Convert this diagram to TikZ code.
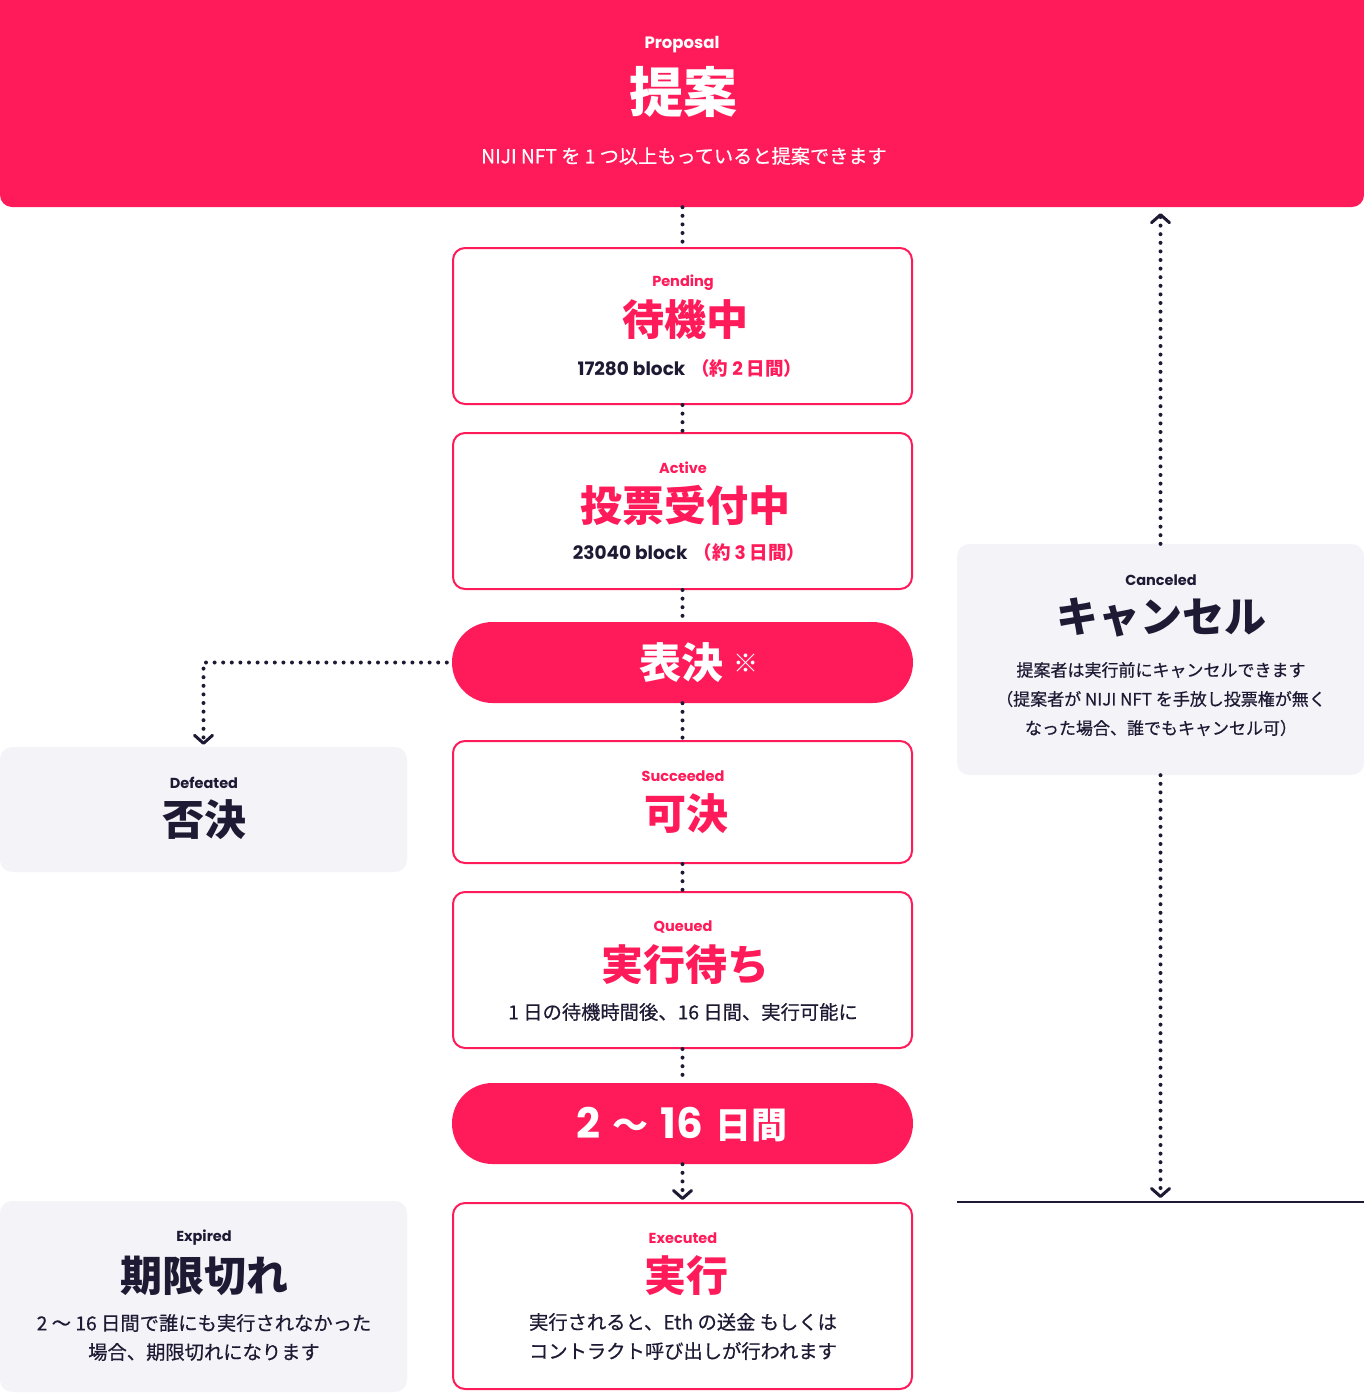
\documentclass[tikz,border=0pt]{standalone}
\usepackage{fontspec}
\setmainfont{Poppins}
\newfontfamily\jp{Noto Sans CJK JP}
\newfontfamily\jpm{Noto Sans CJK JP}[FakeBold=0.5]
\usetikzlibrary{arrows.meta}
\definecolor{nred}{RGB}{255,27,90}
\definecolor{ndark}{RGB}{30,26,52}
\definecolor{ngray}{RGB}{244,243,248}
\begin{document}
\begin{tikzpicture}[x=1pt,y=-1pt,
  wbox/.style={draw=nred,line width=2pt,fill=white,rounded corners=12pt,minimum width=459pt,inner sep=0pt},
  gbox/.style={fill=ngray,rounded corners=12pt,minimum width=407pt,inner sep=0pt},
  pill/.style={fill=nred,rounded corners=40.5pt,minimum width=461pt,minimum height=81pt,inner sep=0pt},
  lab/.style={font=\bfseries\fontsize{14.5}{16}\selectfont,inner sep=0pt},
  ttl/.style={font=\jp\bfseries\fontsize{42}{48}\selectfont,inner sep=0pt},
  body/.style={font=\jpm\fontsize{19.3}{22}\selectfont,text=ndark,inner sep=0pt},
  sbody/.style={font=\jpm\fontsize{17}{20}\selectfont,text=ndark,inner sep=0pt},
  blk/.style={font=\bfseries\fontsize{18.5}{20}\selectfont,text=ndark,inner sep=0pt},
  dots/.style={ndark,line width=4pt,line cap=round,dash pattern=on 0pt off 8.6pt},
  tip/.style={-{Straight Barb[length=8pt,width=18pt,line width=3pt,round]}},
]
\useasboundingbox (0,0) rectangle (1364,1393);
\begin{scope}
\clip (0,0) rectangle (1364,1393);
\node[fill=nred,rounded corners=12pt,minimum width=1364pt,minimum height=227pt,inner sep=0pt] (prop) at (682,93.5) {};
\end{scope}
\node[lab,text=white,font=\bfseries\fontsize{16.5}{18}\selectfont] (propL) at (682,45) {Proposal};
\node[ttl,text=white,font=\jp\bfseries\fontsize{54}{60}\selectfont] (propT) at (683,92) {提案};
\node[body,text=white,font=\jpm\fontsize{19.2}{22}\selectfont] (propB) at (684,156) {NIJI NFT を 1 つ以上もっていると提案できます};

% boxes
\node[wbox,minimum height=156pt] (pend) at (682.5,326) {};
\node[wbox,minimum height=156pt] (act) at (682.5,511) {};
\node[pill] (vote) at (682.5,662.5) {};
\node[wbox,minimum height=122pt] (succ) at (682.5,802) {};
\node[wbox,minimum height=156pt] (que) at (682.5,970) {};
\node[pill] (dur) at (682.5,1123.5) {};
\node[wbox,minimum height=186pt] (exe) at (682.5,1296) {};
\node[gbox,minimum height=125pt] (def) at (203.5,809.5) {};
\node[gbox,minimum height=191pt] (expd) at (203.5,1296.5) {};
\node[gbox,minimum height=231pt] (canc) at (1160.5,659.5) {};
\coordinate (lineL) at (957,1202);
\coordinate (lineR) at (1364,1202);
\draw[ndark,line width=2.5pt] (lineL) -- (lineR);

% texts
\node[lab,text=nred] (pendL) at (683,283) {Pending};
\node[ttl,text=nred] (pendT) at (685,320) {待機中};
\node[blk] (pendB) at (690,368) {17280 block\hspace{6pt}{\color{nred}{\jp\bfseries （約}\hspace{4pt}2\hspace{4pt}{\jp\bfseries 日間）}}};

\node[lab,text=nred] (actL) at (683,468) {Active};
\node[ttl,text=nred] (actT) at (685,505) {投票受付中};
\node[blk] (actB) at (689,552) {23040 block\hspace{6pt}{\color{nred}{\jp\bfseries （約}\hspace{4pt}3\hspace{4pt}{\jp\bfseries 日間）}}};

\node[inner sep=0pt,text=white] (voteT) at (699,663) {{\jp\bfseries\fontsize{42}{48}\selectfont 表決}\hspace{10pt}\raisebox{6pt}{\jp\fontsize{25}{26}\selectfont ※}};

\node[lab,text=nred] (succL) at (683,776) {Succeeded};
\node[ttl,text=nred] (succT) at (686,814) {可決};

\node[lab,text=nred] (queL) at (683,927) {Queued};
\node[ttl,text=nred] (queT) at (685,965) {実行待ち};
\node[body] (queB) at (683,1012) {1 日の待機時間後、16 日間、実行可能に};

\node[inner sep=0pt,text=white,font=\bfseries\fontsize{42}{46}\selectfont] (durT) at (682,1125) {2\hspace{12pt}{\jp\bfseries\fontsize{36}{40}\selectfont 〜}\hspace{12pt}16\hspace{12pt}{\jp\bfseries\fontsize{36}{40}\selectfont 日間}};

\node[lab,text=nred] (exeL) at (683,1238) {Executed};
\node[ttl,text=nred] (exeT) at (686,1276) {実行};
\node[body] (exeB1) at (683,1322) {実行されると、Eth の送金 もしくは};
\node[body] (exeB2) at (683,1351) {コントラクト呼び出しが行われます};

\node[lab,text=ndark] (defL) at (204,783) {Defeated};
\node[ttl,text=ndark] (defT) at (204,820) {否決};

\node[lab,text=ndark] (expL) at (204,1238) {Expired};
\node[ttl,text=ndark] (expT) at (204,1276) {期限切れ};
\node[body] (expB1) at (204,1323) {2 〜 16 日間で誰にも実行されなかった};
\node[body] (expB2) at (204,1352) {場合、期限切れになります};

\node[lab,text=ndark] (cancL) at (1161,580) {Canceled};
\node[ttl,text=ndark] (cancT) at (1161,617) {キャンセル};
\node[sbody] (cancB1) at (1161,670) {提案者は実行前にキャンセルできます};
\node[sbody] (cancB2) at (1161,699) {（提案者が NIJI NFT を手放し投票権が無く};
\node[sbody] (cancB3) at (1161,728) {なった場合、誰でもキャンセル可）};

% connectors
\draw[dots] (pend.north |- prop.south) -- (pend.north);
\draw[dots] (pend.south) -- (act.north);
\draw[dots] (act.south) -- (vote.north);
\draw[dots] (vote.south) -- (succ.north);
\draw[dots] (succ.south) -- (que.north);
\draw[dots] (que.south) -- (dur.north);
\draw[dots,tip,shorten >=2pt] (dur.south) -- (exe.north);
\draw[dots,tip,shorten >=2pt] ([xshift=-5pt]vote.west) -| (def.north);
\draw[dots,tip,shorten >=6pt] (canc.north) -- (canc.north |- prop.south);
\draw[dots,tip,shorten >=4pt] (canc.south) -- (canc.south |- lineL);
\end{tikzpicture}
\end{document}
